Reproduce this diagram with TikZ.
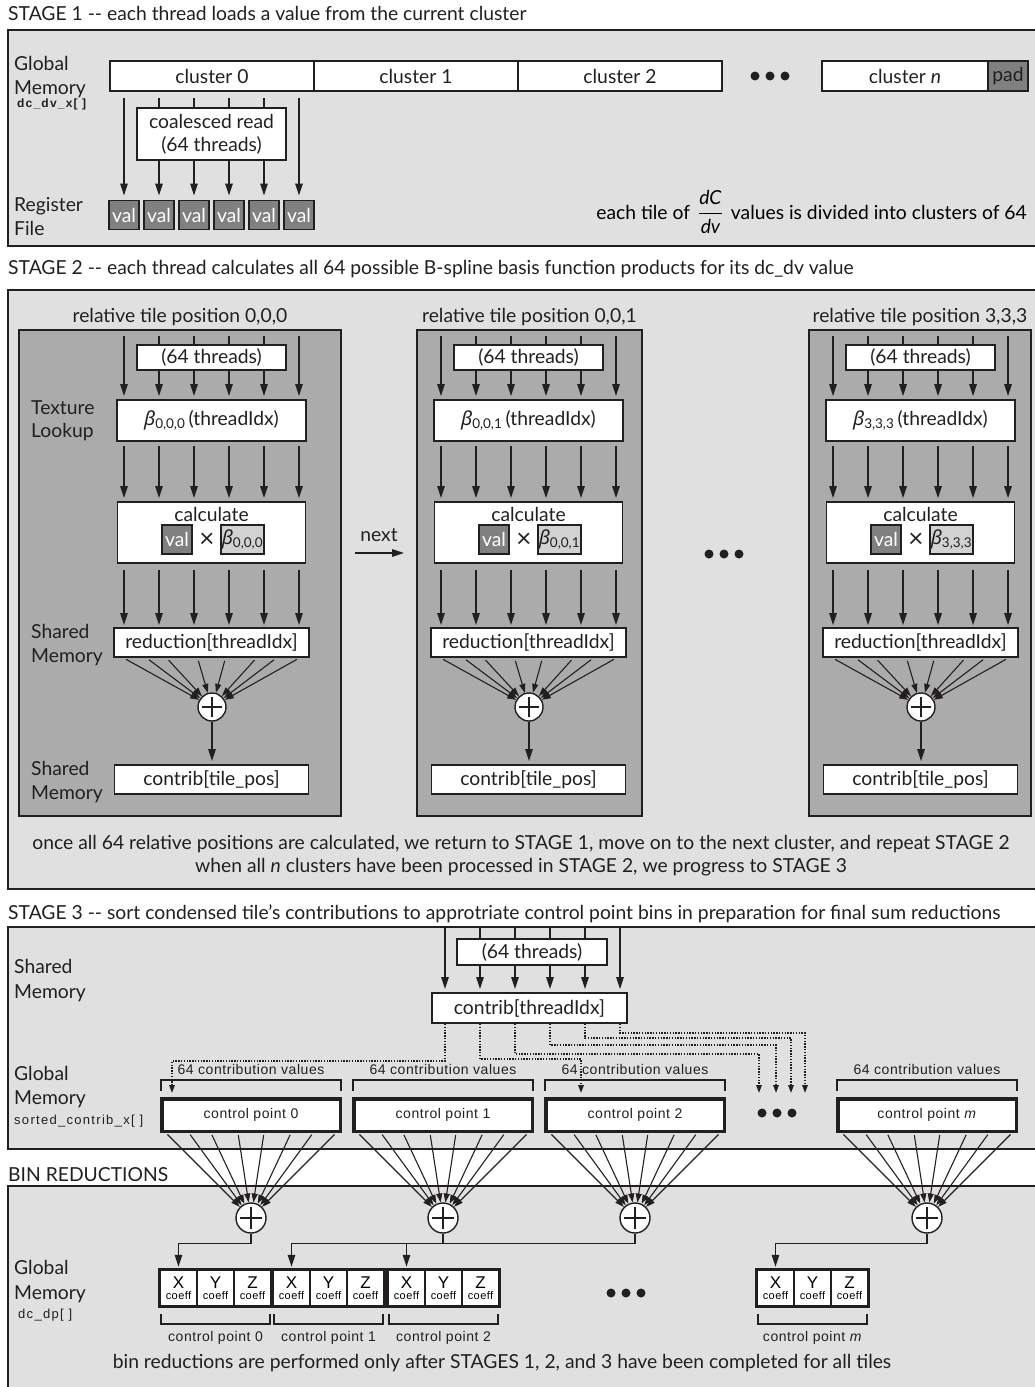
\documentclass[tikz,border=0pt]{standalone}
\usepackage{amsmath}
\usepackage{fontspec}
\setmainfont{Lato}
\newfontfamily\helv[LetterSpace=4]{Liberation Sans}
\newfontfamily\helvw[LetterSpace=10]{Liberation Sans}
\newfontfamily\grk{Noto Sans}
\usetikzlibrary{arrows.meta,calc,positioning}
\definecolor{Ink}{HTML}{231F20}
\definecolor{PanelGray}{HTML}{E0E0E0}
\definecolor{TileGray}{HTML}{ABABAB}
\definecolor{ValGray}{HTML}{808080}
\definecolor{BetaGray}{HTML}{D2D2D2}
\newcommand{\bsym}[1]{{\grk\itshape β}\textsubscript{#1}}
\tikzset{
  panel/.style={fill=PanelGray,draw=Ink,line width=2pt},
  box/.style={draw=Ink,fill=white,line width=1.8pt,inner sep=0pt,text=Ink},
  valbox/.style={box,fill=ValGray,text=white,minimum width=30pt,minimum height=29pt},
  arr/.style={draw=Ink,line width=1.4pt,-{Triangle[length=12pt,width=7.5pt]}},
  fan/.style={draw=Ink,line width=1.1pt,-{Triangle[length=9pt,width=6pt]}},
  dotarr/.style={draw=Ink,line width=1.6pt,dash pattern=on 1.4pt off 1.4pt,-{Triangle[length=8pt,width=5.5pt]}},
  sumnode/.style={circle,draw=Ink,fill=white,line width=1.4pt,minimum size=#1,inner sep=0pt,
    path picture={\draw[Ink,line width=1.2pt,shorten <=4pt,shorten >=4pt]
      (path picture bounding box.west)--(path picture bounding box.east);
      \draw[Ink,line width=1.2pt,shorten <=4pt,shorten >=4pt]
      (path picture bounding box.north)--(path picture bounding box.south);}},
  lbl/.style={anchor=base west,inner sep=0pt,text=Ink},
  ctr/.style={anchor=base,inner sep=0pt,text=Ink},
  small/.style={font=\helv\fontsize{14}{16}\selectfont},
  arrname/.style={lbl,font=\helvw\fontsize{13}{14}\selectfont},
  cell/.style={draw=Ink,fill=white,line width=1.5pt,minimum width=37pt,minimum height=35pt,
    inner sep=0pt,align=center,font=\helv\fontsize{11}{11}\selectfont},
}
\begin{document}
\begin{tikzpicture}[x=1pt,y=-1pt,font=\fontsize{19.3}{23}\selectfont]
\useasboundingbox (0,0) rectangle (1035,1387);
\fill[white] (0,0) rectangle (1035,1387);
% the four stage panels
\filldraw[panel] (8,30) rectangle (1040,246);
\filldraw[panel] (8,290) rectangle (1040,889);
\filldraw[panel] (8,927) rectangle (1040,1149);
\filldraw[panel] (8,1186) rectangle (1040,1395);

% ---- STAGE 1
\node[lbl] (s1title) at (8,20) {STAGE 1 -{}- each thread loads a value from the current cluster};
\node[lbl] (s1glob) at (14,70) {Global};
\node[lbl] (s1mem) at (14,94) {Memory};
\node[arrname,font=\helvw\bfseries\fontsize{12}{13}\selectfont] (s1arr) at (17,107) {dc\_dv\_x[ ]};
\node[lbl] (s1reg) at (14,211) {Register};
\node[lbl] (s1file) at (14,235) {File};
\foreach \c [count=\j from 0] in {0,1,2}
  \node[box,minimum width=204pt,minimum height=30pt] (clu\j) at ({212+204*\j},76) {cluster \c};
\node[box,minimum width=166pt,minimum height=30pt] (clun) at (905,76) {cluster \textit{n}};
\node[box,fill=ValGray,minimum width=40pt,minimum height=30pt] (pad) at (1008,76) {pad};
\foreach \x in {755,770,785} \fill[Ink] (\x,76) circle (4.5pt);
\foreach \i in {0,...,5}{
  \node[valbox] (val\i) at ({124+35*\i},215) {val};
  \draw[arr,shorten <=6pt,shorten >=4pt] (val\i |- clu0.south) -- (val\i.north);
}
\node[box,minimum width=149pt,minimum height=52pt,align=center] (coal) at (211.5,134) {coalesced read\\(64 threads)};
\node[anchor=base east,inner sep=0pt] (s1note) at (1027,219)
  {each tile of \,$\dfrac{\text{\itshape dC}}{\text{\itshape dv}}$\, values is divided into clusters of 64};

% ---- STAGE 2
\node[lbl] (s2title) at (8,274) {STAGE 2 -{}- each thread calculates all 64 possible B-spline basis function products for its dc\_dv value};
\foreach \pl/\pr/\a/\p [count=\pn] in {19/341/124/{0,0,0}, 417/642/441/{0,0,1}, 809/1031/833/{3,3,3}}{
  \node[draw=Ink,fill=TileGray,line width=2pt,minimum width={\pr-\pl},minimum height=486pt,inner sep=0pt]
    (sp\pn) at ({(\pl+\pr)/2},573) {};
  \node[ctr] (rt\pn) at ({(\pl+\pr)/2},322) {relative tile position \p};
  \node[box,minimum width=189pt,minimum height=41pt] (beta\pn) at (\a+87.5,420.5) {\bsym{\p}\,(threadIdx)};
  \node[box,minimum width=188pt,minimum height=61pt] (calc\pn) at (\a+87.5,532.5) {};
  \node[ctr] (clab\pn) at (\a+87.5,521) {calculate};
  \node[valbox] (cv\pn) at (\a+53,539.5) {val};
  \node[ctr,font=\fontsize{26}{26}\selectfont] (cx\pn) at (\a+83,547) {×};
  \node[box,fill=BetaGray,line width=1.5pt,minimum width=43pt,minimum height=29pt] (cb\pn) at (\a+118.5,539.5) {\bsym{\p}};
  \node[box,minimum width=195pt,minimum height=29pt] (red\pn) at (\a+87.5,642.5) {reduction[threadIdx]};
  \node[sumnode=28pt] (sum\pn) at (\a+88,707) {};
  \node[box,minimum width=194pt,minimum height=29pt] (contrib\pn) at (\a+87.5,779.5) {contrib[tile\_pos]};
  \foreach \i in {0,...,5}{
    \coordinate (top\pn\i) at ({\a+35*\i},336);
    \draw[arr,shorten >=3pt] (top\pn\i) -- (top\pn\i |- beta\pn.north);
    \draw[arr,shorten <=4pt,shorten >=3pt] (top\pn\i |- beta\pn.south) -- (top\pn\i |- calc\pn.north);
    \draw[arr,shorten <=6pt,shorten >=2pt] (top\pn\i |- calc\pn.south) -- (top\pn\i |- red\pn.north);
  }
  \node[box,minimum width=149pt,minimum height=25pt] (thr\pn) at (\a+87.5,357.5) {(64 threads)};
  \foreach \dx in {-88,-65,-45,-14,14,45,65,88}
    \draw[fan,shorten <=3pt] ([xshift=\dx pt]red\pn.south) -- (sum\pn);
  \draw[arr,shorten >=3pt] (sum\pn) -- (sum\pn |- contrib\pn.north);
}
\node[lbl] (tex) at (31,414) {Texture};
\node[lbl] (look) at (31,437) {Lookup};
\node[lbl] (sh1) at (31,638) {Shared};
\node[lbl] (me1) at (31,662) {Memory};
\node[lbl] (sh2) at (31,775) {Shared};
\node[lbl] (me2) at (31,799) {Memory};
\node[ctr] (nxt) at (379,541) {next};
\coordinate (nxa) at (355,553);
\draw[arr,shorten >=12pt] (nxa) -- (nxa -| sp2.west);
\foreach \x in {709,724,739} \fill[Ink] (\x,554) circle (4.5pt);
\node[ctr] (once) at (521,849) {once all 64 relative positions are calculated, we return to STAGE 1, move on to the next cluster, and repeat STAGE 2};
\node[ctr] (when) at (521,872) {when all \textit{n} clusters have been processed in STAGE 2, we progress to STAGE 3};

% ---- STAGE 3
\node[lbl] (s3title) at (8,919) {STAGE 3 -{}- sort condensed tile’s contributions to approtriate control point bins in preparation for final sum reductions};
\node[lbl] (s3sh) at (14,973) {Shared};
\node[lbl] (s3me) at (14,998) {Memory};
\node[lbl] (s3glob) at (14,1080) {Global};
\node[lbl] (s3mem) at (14,1104) {Memory};
\node[arrname] (s3arr) at (14,1124) {sorted\_contrib\_x[ ]};
\node[box,minimum width=195pt,minimum height=30pt] (ctb) at (529.5,1008) {contrib[threadIdx]};
\foreach \i in {0,...,5}{
  \coordinate (s3c\i) at ({445+35*\i},927);
  \draw[arr,shorten >=3pt] (s3c\i) -- (s3c\i |- ctb.north);
}
\node[box,minimum width=150pt,minimum height=26pt] (thr4) at (532,952) {(64 threads)};
\foreach \x/\m [count=\j from 0] in {160/0,352/1,544/2,836/\textit{m}}{
  \node[box,line width=3.5pt,minimum width=178.5pt,minimum height=32.5pt,small] (cp\j) at ({\x+91},1115) {control point \m};
  \draw[Ink,line width=1.3pt] (\x+1,1091) -- (\x+1,1080) -- (\x+181,1080) -- (\x+181,1091);
  \node[ctr,small] (ncv\j) at ({\x+91},1074) {64 contribution values};
  \node[sumnode=30pt] (bs\j) at ({\x+91},1218) {};
  \foreach \dx in {-85,-62,-40,-13,13,40,62,85}
    \draw[fan,shorten <=2pt] ([xshift=\dx pt]cp\j.south) -- (bs\j);
}
\foreach \i/\h/\xd in {0/37/172,1/35/581,2/30/759,3/21/776,4/14/791,5/9/805}{
  \coordinate (dst\i) at (\xd,1093);
  \draw[dotarr] (s3c\i |- ctb.south) -- ++(0,\h) -| (dst\i);
}
\foreach \x in {762,777,792} \fill[Ink] (\x,1113) circle (4.5pt);

% ---- BIN REDUCTIONS
\node[lbl] (bintitle) at (8,1181) {BIN REDUCTIONS};
\node[lbl] (bglob) at (14,1274) {Global};
\node[lbl] (bmem) at (14,1299) {Memory};
\node[arrname] (barr) at (18,1318) {dc\_dp[ ]};
\foreach \g/\lab [count=\j from 0] in {160/0,273/1,388/2,757/\textit{m}}{
  \node[cell] (gx\j) at ({\g+18.5},1288) {{\fontsize{17}{15}\selectfont X}\\coeff};
  \node[cell] (gy\j) at ({\g+55.5},1288) {{\fontsize{17}{15}\selectfont Y}\\coeff};
  \node[cell] (gz\j) at ({\g+92.5},1288) {{\fontsize{17}{15}\selectfont Z}\\coeff};
  \draw[Ink,line width=3pt] (gx\j.north west) rectangle (gz\j.south east);
  \draw[Ink,line width=1.3pt] (\g+1,1314) -- (\g+1,1324) -- (\g+110,1324) -- (\g+110,1314);
  \node[ctr,small] (cpl\j) at ({\g+55.5},1341) {control point \lab};
  \draw[arr,shorten >=3pt] (bs\j.south) -- ++(0,10) -| (gx\j.north);
}
\foreach \x in {611,626,641} \fill[Ink] (\x,1293) circle (4.5pt);
\node[ctr] (binnote) at (502,1368) {bin reductions are performed only after STAGES 1, 2, and 3 have been completed for all tiles};
\end{tikzpicture}
\end{document}
